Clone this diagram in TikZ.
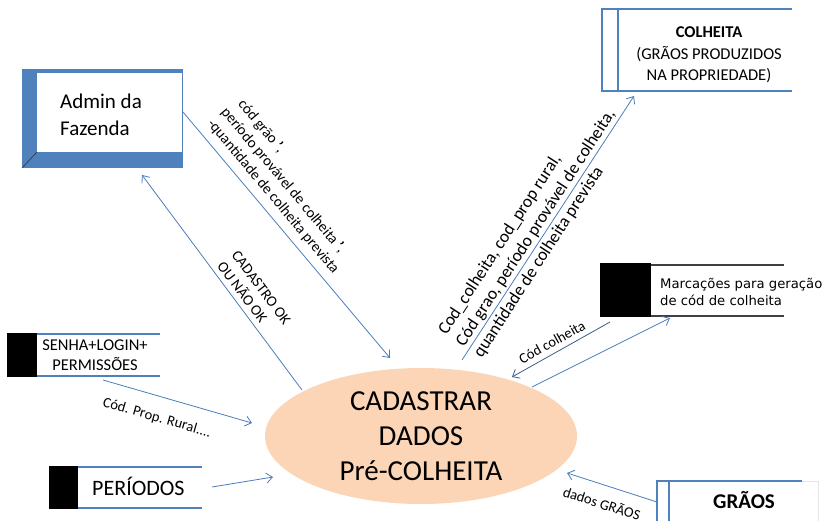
\documentclass[tikz,border=0pt]{standalone}
\usepackage{fontspec}
\setmainfont{Carlito}
\newfontfamily\verd{DejaVu Sans}
\usetikzlibrary{shapes.geometric,arrows.meta}
\definecolor{bl}{HTML}{4F81BD}
\definecolor{ln}{HTML}{4A7EBB}
\definecolor{dk}{HTML}{385D8A}
\definecolor{peach}{HTML}{FBD5B5}
\begin{document}
\begin{tikzpicture}[x=1pt,y=-1pt,
  flow/.style={draw=ln, line width=0.8pt, -{Straight Barb[length=6pt,width=10pt]}},
  darkflow/.style={flow, draw=dk},
  lbl/.style={font=\fontsize{14}{17}\selectfont, align=left, inner sep=0pt},
  edge/.style={line width=2pt, draw=bl},
  grayedge/.style={line width=2pt, draw=black!75},
  boxtext/.style={inner sep=0pt, align=center}]
\useasboundingbox (0,0) rectangle (824,520);

% Admin da Fazenda (3D box)
\fill[bl] (22,69) rectangle (183,168);
\fill[white] (37,72.5) rectangle (181.5,152);
\draw[black!80, line width=0.6pt] (37,152) -- (22,168);
\node[boxtext, align=left, anchor=west, font=\fontsize{21}{27}\selectfont] (admin) at (60,115) {Admin da\\Fazenda};

% COLHEITA
\draw[edge] (792,9) -- (602,9) -- (602,91) -- (792,91);
\draw[edge] (618,9) -- (618,91);
\node[boxtext, font=\fontsize{16.5}{21.5}\selectfont] (colheita) at (709,55)
  {\textbf{COLHEITA}\\(GRÃOS PRODUZIDOS\\NA PROPRIEDADE)};

% Marcacoes
\fill[black] (600,263) rectangle (651,317);
\draw[grayedge] (651,264.5) -- (784,264.5);
\draw[grayedge] (651,316) -- (784,316);
\node[boxtext, align=left, anchor=west, font=\verd\fontsize{13.2}{16.5}\selectfont] (marc) at (660,292)
  {Marcações para geração\\de cód de colheita};

% SENHA
\fill[black] (7,333) rectangle (37,377);
\draw[edge] (37,334) -- (160,334);
\draw[edge] (37,376) -- (160,376);
\node[boxtext, font=\fontsize{16.5}{20}\selectfont] (senha) at (95,355) {SENHA+LOGIN+\\PERMISSÕES};

% PERIODOS
\fill[black] (49,466) rectangle (78,509);
\draw[edge] (78,467) -- (202,467);
\draw[edge] (78,508) -- (202,508);
\node[inner sep=0pt, anchor=base west, font=\fontsize{22}{26}\selectfont] (periodos) at (92,495) {PERÍODOS};

% GRAOS
\draw[black!10, line width=1pt] (802,481) -- (818,481) -- (818,525);
\draw[edge] (802,481) -- (657,481) -- (657,525);
\draw[edge] (669,481) -- (669,525);
\node[inner sep=0pt, anchor=base, font=\bfseries\fontsize{21}{25}\selectfont] (graos) at (744,508) {GRÃOS};

% central process
\node[ellipse, fill=peach, minimum width=312pt, minimum height=136pt, inner sep=0pt,
      align=center, font=\fontsize{29}{35}\selectfont] (proc) at (421,436)
  {CADASTRAR\\DADOS\\Pré-COLHEITA};

% connector end points
\coordinate (a1s) at (183,112);  \coordinate (a1e) at (390,358);
\coordinate (a2s) at (302,390);  \coordinate (a2e) at (142,175);
\coordinate (a3s) at (462,360);  \coordinate (a3e) at (634,96);
\coordinate (a4s) at (610,322);  \coordinate (a4e) at (512,377);
\coordinate (a5s) at (532,387);  \coordinate (a5e) at (670,318);
\coordinate (a6s) at (103,380);  \coordinate (a6e) at (252,423);
\coordinate (a7s) at (212,487);  \coordinate (a7e) at (273,477);
\coordinate (a8s) at (657,502);  \coordinate (a8e) at (567,473);

\draw[flow] (a1s) -- (a1e);
\draw[flow] (a2s) -- (a2e);
\draw[flow] (a3s) -- (a3e);
\draw[darkflow] (a4s) -- (a4e);
\draw[flow] (a5s) -- (a5e);
\draw[flow] (a6s) -- (a6e);
\draw[flow] (a7s) -- (a7e);
\draw[flow] (a8s) -- (a8e);

% labels
\node[lbl, font=\fontsize{15}{18}\selectfont, rotate=-50] (l1) at (287,185)
  {\hspace{5pt}cód grão \textbf{’},\\período provável de colheita \textbf{’},\\-quantidade de colheita prevista};
\node[lbl, font=\fontsize{15}{18}\selectfont, rotate=-53] (l2) at (254,293) {CADASTRO OK\\OU NÃO OK};
\node[lbl, font=\fontsize{17.5}{21}\selectfont, rotate=57] (l3) at (536,228)
  {Cod\_colheita, cod\_prop rural,\\Cód grao, período provável de colheita,\\quantidade de colheita prevista};
\node[lbl, font=\fontsize{14.5}{17}\selectfont, rotate=29] (l4) at (552,342) {Cód colheita};
\node[lbl, font=\fontsize{14.5}{17}\selectfont, rotate=-16] (l6) at (157,418) {Cód. Prop. Rural....};
\node[lbl, font=\fontsize{14.5}{17}\selectfont, rotate=-18] (l8) at (602,503) {dados GRÃOS};
\end{tikzpicture}
\end{document}
